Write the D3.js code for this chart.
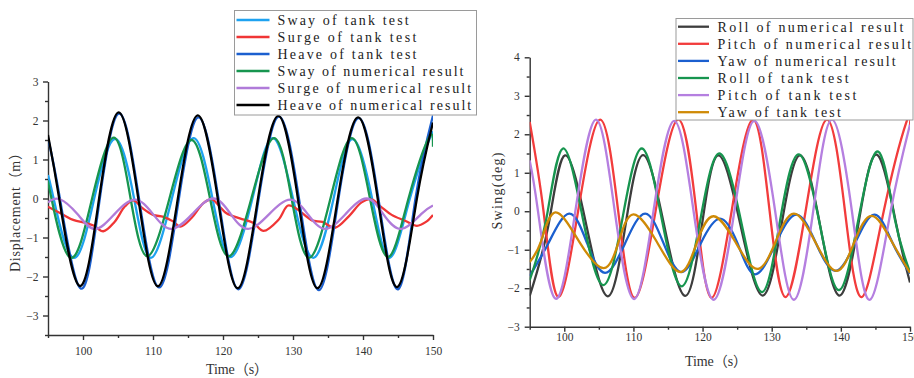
<!DOCTYPE html>
<html>
<head>
<meta charset="utf-8">
<script src="https://cdn.jsdelivr.net/npm/d3@7/dist/d3.min.js"></script>
<style>
  html, body { margin: 0; padding: 0; background: #fff; }
  svg { display: block; }
  .tick text { font-family: "Liberation Serif", serif; font-size: 11.5px; fill: #333; }
  .axis path, .axis line { stroke: #333; stroke-width: 1.4; }
  .title { font-family: "Liberation Serif", "Noto Sans CJK SC", serif; font-size: 14px; fill: #333; }
  .legend text { font-family: "Liberation Serif", serif; font-size: 14px; fill: #222; }
</style>
</head>
<body>
<svg id="chart" width="914" height="378"></svg>
<script>
// ---------- translational motion (m): [time s, displacement m] ----------
const swayTank = [[95,0.6],[95.8,0],[98.6,-1.52],[101.6,0],[104.6,1.53],[107.3,0],[109.7,-1.52],[112.7,0],[115.8,1.55],[118.5,0],[121.1,-1.5],[124.2,0],[127.1,1.55],[130.0,0],[132.9,-1.52],[135.8,0],[138.5,1.52],[141.3,0],[143.8,-1.52],[146.7,0],[149.6,1.57],[150,1.55]];
const surgeTank = [[95,-0.21],[97,-0.4],[98.6,-0.55],[100.5,-0.63],[101.6,-0.7],[102.9,-0.84],[104.5,-0.6],[106,-0.2],[107.2,-0.05],[108.5,-0.25],[110,-0.42],[111.5,-0.47],[112.8,-0.58],[113.9,-0.72],[115.5,-0.5],[117.2,-0.12],[118.4,-0.02],[119.5,-0.2],[120.5,-0.38],[122.4,-0.51],[124.3,-0.62],[125.8,-0.83],[127.9,-0.55],[129.3,-0.18],[130.5,-0.26],[132.7,-0.56],[134.2,-0.6],[136,-0.75],[138,-0.45],[139.8,-0.1],[141.2,-0.02],[142.5,-0.2],[144.1,-0.42],[146,-0.57],[147.7,-0.7],[149,-0.6],[150,-0.42]];
const heaveTank = [[95,1.55],[96.7,0],[99.7,-2.31],[102.4,0],[105.2,2.18],[108.0,0],[110.9,-2.28],[113.7,0],[116.5,2.08],[119.35,0],[122.2,-2.33],[125.1,0],[128.0,2.1],[130.85,0],[133.7,-2.35],[136.5,0],[139.4,2.06],[142.2,0],[145.0,-2.33],[147.5,0],[150,2.13]];
const swayNum = [[95,0.43],[95.5,0],[98.2,-1.52],[101.3,0],[104.4,1.56],[106.8,0],[109.2,-1.48],[112.35,0],[115.5,1.5],[118.15,0],[120.8,-1.48],[124.05,0],[127.3,1.55],[129.8,0],[132.3,-1.52],[135.35,0],[138.4,1.55],[141.0,0],[143.6,-1.5],[146.5,0],[149.4,1.56],[150,1.33]];
const surgeNum = [[95,-0.1],[96.7,-0.02],[99.2,-0.4],[101.7,-0.78],[104.5,-0.4],[107.4,-0.03],[110.0,-0.4],[112.6,-0.78],[115.6,-0.4],[118.6,0],[121.1,-0.4],[123.6,-0.78],[126.6,-0.4],[129.6,-0.03],[132.1,-0.4],[134.6,-0.78],[137.5,-0.4],[140.5,0],[142.9,-0.4],[145.5,-0.78],[148.3,-0.4],[150,-0.18]];
const heaveNum = [[95,1.63],[96.6,0],[99.5,-2.24],[102.3,0],[105.1,2.21],[107.9,0],[110.7,-2.25],[113.55,0],[116.4,2.13],[119.25,0],[122.1,-2.3],[125.0,0],[127.9,2.12],[130.7,0],[133.5,-2.3],[136.4,0],[139.3,2.08],[142.1,0],[144.9,-2.27],[147.7,0],[150,1.95]];

// ---------- rotational motion (deg): [time s, angle deg] ----------
const rollNum = [[95,-2.2],[97.7,-0.37],[100.1,1.45],[103.2,-0.37],[106.3,-2.21],[108.85,-0.37],[111.4,1.46],[114.45,-0.37],[117.5,-2.2],[119.9,-0.37],[122.3,1.45],[125.5,-0.37],[128.7,-2.19],[131.4,-0.37],[134.1,1.45],[137.0,-0.37],[139.8,-2.19],[142.5,-0.37],[145.2,1.47],[148.05,-0.37],[150,-1.85]];
const pitchNum = [[95,2.32],[97.0,0],[99.1,-2.22],[102.0,0],[105.2,2.38],[107.8,0],[110.2,-2.25],[113.2,0],[116.5,2.38],[119.1,0],[121.3,-2.25],[124.2,0],[127.3,2.38],[129.7,0],[132.0,-2.23],[134.9,0],[138.0,2.38],[140.6,0],[143.0,-2.23],[146.2,0],[149.5,2.33],[150,2.22]];
const yawNum = [[95,-1.68],[97.7,-0.83],[100.7,-0.06],[103.3,-0.83],[105.9,-1.6],[108.8,-0.83],[111.7,-0.06],[114.35,-0.83],[117.0,-1.58],[119.75,-0.83],[122.5,-0.19],[125.05,-0.83],[127.6,-1.64],[130.6,-0.83],[133.6,-0.09],[136.4,-0.83],[139.2,-1.55],[142.05,-0.83],[144.9,-0.09],[147.5,-0.83],[150,-1.62]];
const rollTank = [[95,-1.79],[97.4,-0.2],[99.8,1.63],[102.7,-0.2],[105.65,-1.92],[108.4,-0.2],[111.2,1.63],[114.1,-0.2],[117.0,-1.95],[119.7,-0.2],[122.4,1.5],[125.5,-0.2],[128.6,-2.1],[131.25,-0.2],[133.9,1.48],[136.8,-0.2],[139.7,-2.05],[142.55,-0.2],[145.4,1.55],[147.8,-0.2],[150,-1.58]];
const pitchTank = [[95,1.32],[96.2,0],[98.7,-2.27],[101.6,0],[104.6,2.38],[107.3,0],[110.1,-2.28],[112.9,0],[115.9,2.35],[118.7,0],[121.6,-2.3],[124.6,0],[127.5,2.35],[130.5,0],[133.2,-2.3],[136.0,0],[138.7,2.38],[141.6,0],[144.2,-2.3],[147.2,0],[150,2.25]];
const yawTank = [[95,-1.32],[96.6,-0.8],[98.7,-0.03],[102.2,-0.8],[105.7,-1.48],[107.85,-0.8],[110.0,-0.08],[113.4,-0.8],[116.8,-1.58],[119.2,-0.8],[121.6,-0.13],[124.75,-0.8],[127.9,-1.5],[130.55,-0.8],[133.2,-0.06],[136.3,-0.8],[139.4,-1.55],[141.95,-0.8],[144.5,-0.12],[147.4,-0.8],[150,-1.6]];

// ---------- axis ticks and labels ----------
const xMajorTicks = [100, 110, 120, 130, 140, 150];
const xMinorTicks = [95, 105, 115, 125, 135, 145];
const leftYMajor = [-3, -2, -1, 0, 1, 2, 3];
const leftYMinor = [-3.5, -2.5, -1.5, -0.5, 0.5, 1.5, 2.5];
const rightYMajor = [-3, -2, -1, 0, 1, 2, 3, 4];
const rightYMinor = [-2.5, -1.5, -0.5, 0.5, 1.5, 2.5, 3.5];

const leftNames = ["Sway of tank test", "Surge of tank test", "Heave of tank test",
  "Sway of numerical result", "Surge of numerical result", "Heave of numerical result"];
const rightNames = ["Roll of numerical result", "Pitch of numerical result", "Yaw of numerical result",
  "Roll of tank test", "Pitch of tank test", "Yaw of tank test"];

const leftColors = ["#1ea2f0", "#f03535", "#1b5fcf", "#17954f", "#b07bd9", "#000000"];
const rightColors = ["#3d3d3d", "#f23c3c", "#1b5fcf", "#17954f", "#b57fe0", "#cf8a06"];

// every Latin character takes the same advance, as in a fixed-pitch face
const CHAR_W = 7.83;

const svg = d3.select("#chart");

function panel(cfg) {
  const g = svg.append("g");
  const x = d3.scaleLinear().domain([95, 150]).range(cfg.xRange);
  const y = d3.scaleLinear().domain(cfg.yDomain).range(cfg.yRange);

  const clipId = cfg.id + "-clip";
  svg.append("clipPath").attr("id", clipId).append("rect")
    .attr("x", cfg.xRange[0]).attr("y", cfg.yRange[1])
    .attr("width", cfg.xRange[1] - cfg.xRange[0])
    .attr("height", cfg.yRange[0] - cfg.yRange[1]);

  // minor ticks
  g.append("g").attr("class", "axis").attr("transform", `translate(0,${cfg.yRange[0]})`)
    .call(d3.axisBottom(x).tickValues(xMinorTicks).tickSize(3).tickSizeOuter(0).tickFormat(""))
    .call(a => a.select(".domain").remove());
  g.append("g").attr("class", "axis").attr("transform", `translate(${cfg.xRange[0]},0)`)
    .call(d3.axisLeft(y).tickValues(cfg.yMinor).tickSize(3).tickSizeOuter(0).tickFormat(""))
    .call(a => a.select(".domain").remove());

  // major axes
  g.append("g").attr("class", "axis").attr("transform", `translate(0,${cfg.yRange[0]})`)
    .call(d3.axisBottom(x).tickValues(xMajorTicks).tickSize(5).tickSizeOuter(0)
      .tickPadding(cfg.xPad).tickFormat(d3.format("d")));
  g.append("g").attr("class", "axis").attr("transform", `translate(${cfg.xRange[0]},0)`)
    .call(d3.axisLeft(y).tickValues(cfg.yMajor).tickSize(5).tickSizeOuter(0)
      .tickPadding(cfg.yPad).tickFormat(d3.format("d")));

  // curves
  const line = d3.line().x(d => x(d[0])).y(d => y(d[1]));
  const plot = g.append("g").attr("clip-path", `url(#${clipId})`);
  cfg.series.forEach((s, i) => {
    plot.append("path").datum(s)
      .attr("fill", "none").attr("stroke", cfg.colors[i])
      .attr("stroke-width", 2.3).attr("stroke-linejoin", "round")
      .attr("d", line.curve(cfg.curves[i])(s));
  });

  // axis titles
  g.append("text").attr("class", "title")
    .attr("x", cfg.xTitle[0]).attr("y", cfg.xTitle[1])
    .attr("text-anchor", "middle")
    .attr("textLength", cfg.xTitleLen).attr("lengthAdjust", "spacing")
    .text("Time（s）");
  g.append("text").attr("class", "title")
    .attr("transform", `translate(${cfg.yTitle[0]},${cfg.yTitle[1]}) rotate(-90)`)
    .attr("text-anchor", "middle").attr("dy", "0.35em")
    .attr("textLength", cfg.yTitleLen).attr("lengthAdjust", "spacing")
    .text(cfg.yLabel);

  // legend
  const lg = g.append("g").attr("class", "legend");
  const b = cfg.legendBox;
  lg.append("rect").attr("x", b[0]).attr("y", b[1]).attr("width", b[2]).attr("height", b[3])
    .attr("fill", "#fff").attr("stroke", "#9a9a9a").attr("stroke-width", 1);
  cfg.names.forEach((n, i) => {
    const cy = cfg.legendTop + i * cfg.legendStep;
    lg.append("line").attr("x1", cfg.legendLine[0]).attr("x2", cfg.legendLine[1])
      .attr("y1", cy).attr("y2", cy)
      .attr("stroke", cfg.colors[i]).attr("stroke-width", 2.3);
    lg.append("text").attr("x", cfg.legendText).attr("y", cy).attr("dy", "0.35em")
      .attr("textLength", n.length * CHAR_W - 2).attr("lengthAdjust", "spacing")
      .text(n);
  });
}

const nat = d3.curveNatural, cr = d3.curveCatmullRom.alpha(0.5);

panel({
  id: "left",
  xRange: [48, 433], yDomain: [-3.5, 3], yRange: [335, 81.5],
  yMajor: leftYMajor, yMinor: leftYMinor, xPad: 7, yPad: 4.5,
  series: [swayTank, surgeTank, heaveTank, swayNum, surgeNum, heaveNum],
  curves: [nat, cr, nat, nat, nat, nat],
  colors: leftColors, names: leftNames,
  xTitle: [237, 374], xTitleLen: 62, yTitle: [15, 209], yTitleLen: 126, yLabel: "Displacement（m）",
  legendBox: [234.5, 10.5, 242, 104.5], legendTop: 20, legendStep: 17,
  legendLine: [236.5, 269.5], legendText: 277.5
});

panel({
  id: "right",
  xRange: [529.7, 910], yDomain: [-3, 4], yRange: [326.7, 57.3],
  yMajor: rightYMajor, yMinor: rightYMinor, xPad: 1, yPad: 5,
  series: [rollNum, pitchNum, yawNum, rollTank, pitchTank, yawTank],
  curves: [nat, nat, nat, nat, nat, nat],
  colors: rightColors, names: rightNames,
  xTitle: [716, 366], xTitleLen: 62, yTitle: [497, 191], yTitleLen: 77, yLabel: "Swing(deg)",
  legendBox: [676, 18.5, 237, 101.5], legendTop: 26.7, legendStep: 17.1,
  legendLine: [678, 709], legendText: 717.5
});
</script>
</body>
</html>
